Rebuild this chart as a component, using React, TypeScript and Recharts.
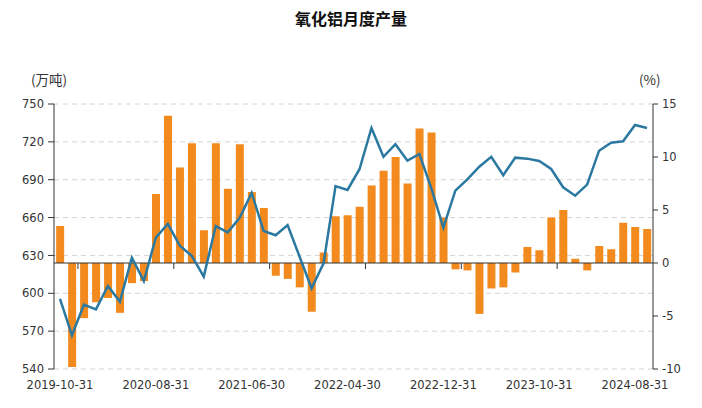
import {
  ComposedChart,
  Bar,
  Line,
  XAxis,
  YAxis,
  CartesianGrid,
  ReferenceLine,
} from "recharts";

// months (Jan/Feb are not reported separately)
const dates = [
  "2019-10-31", "2019-11-30", "2019-12-31",
  "2020-03-31", "2020-04-30", "2020-05-31", "2020-06-30", "2020-07-31",
  "2020-08-31", "2020-09-30", "2020-10-31", "2020-11-30", "2020-12-31",
  "2021-03-31", "2021-04-30", "2021-05-31", "2021-06-30", "2021-07-31",
  "2021-08-31", "2021-09-30", "2021-10-31", "2021-11-30", "2021-12-31",
  "2022-03-31", "2022-04-30", "2022-05-31", "2022-06-30", "2022-07-31",
  "2022-08-31", "2022-09-30", "2022-10-31", "2022-11-30", "2022-12-31",
  "2023-03-31", "2023-04-30", "2023-05-31", "2023-06-30", "2023-07-31",
  "2023-08-31", "2023-09-30", "2023-10-31", "2023-11-30", "2023-12-31",
  "2024-03-31", "2024-04-30", "2024-05-31", "2024-06-30", "2024-07-31",
  "2024-08-31", "2024-09-30",
];

// 月度产量（万吨）
const output = [
  595.5, 566.7, 591, 587.3, 605.8, 593.4, 628.2, 609.7, 644.1, 654.9,
  637.7, 629.6, 613.2, 653.3, 648.3, 659.9, 679.5, 649.4, 646, 654.1,
  629, 604, 623.8, 685, 681.9, 698.3, 731, 708.2, 718.1, 705.1,
  710.4, 683.2, 652, 681.3, 690.3, 700.3, 708.2, 693.5, 707.5, 706.7,
  704.8, 698.5, 684, 677.3, 686.1, 713, 719.3, 720.4, 733.4, 731,
];

// 同比（%）
const yoy = [
  3.5, -9.8, -5.2, -3.7, -3.3, -4.7, -1.9, -1.7, 6.5, 13.9,
  9.0, 11.3, 3.1, 11.3, 7.0, 11.2, 6.7, 5.2, -1.2, -1.5,
  -2.3, -4.6, 1.0, 4.4, 4.5, 5.3, 7.3, 8.7, 10.0, 7.5,
  12.7, 12.3, 4.3, -0.6, -0.7, -4.8, -2.4, -2.3, -0.9, 1.5,
  1.2, 4.3, 5.0, 0.4, -0.7, 1.6, 1.3, 3.8, 3.4, 3.2,
];

const leftTicks = [540, 570, 600, 630, 660, 690, 720, 750];
const rightTicks = [-10, -5, 0, 5, 10, 15];

const data = dates.map((date, i) => ({ date, output: output[i], yoy: yoy[i] }));

const axisColor = "#333";
const font = "DejaVu Sans";
const tickStyle = { fill: "#333", fontSize: 11.5, fontFamily: font };

// x axis line sits on the 0% level, with ticks between every 8th month
const AxisAtZero = (props: any) => {
  const { x1, y1, x2, y2 } = props;
  const n = dates.length;
  const marks = [];
  for (let k = 8; k < n; k += 8) {
    const x = x1 + ((x2 - x1) * k) / n;
    marks.push(<line key={k} x1={x} x2={x} y1={y1} y2={y1 + 6} stroke={axisColor} />);
  }
  return (
    <g>
      <line x1={x1} y1={y1} x2={x2} y2={y2} stroke={axisColor} strokeWidth={1} />
      {marks}
    </g>
  );
};

export default function App() {
  return (
    <div style={{ position: "absolute", left: 0, top: 0, width: 702, height: 408, background: "#fff" }}>
      <div
        style={{
          position: "absolute",
          left: 0,
          width: 702,
          top: 6,
          textAlign: "center",
          fontFamily: "Noto Sans CJK SC",
          fontWeight: 700,
          fontSize: 16,
          lineHeight: "24px",
          color: "#111",
        }}
      >
        氧化铝月度产量
      </div>
      <div
        style={{
          position: "absolute",
          left: 31,
          top: 69,
          fontFamily: "Noto Sans CJK SC",
          fontSize: 13.5,
          lineHeight: "20px",
          color: "#333",
        }}
      >
        (万吨)
      </div>
      <div
        style={{
          position: "absolute",
          left: 639,
          top: 69,
          fontFamily: "Noto Sans CJK SC",
          fontSize: 13.5,
          lineHeight: "20px",
          color: "#333",
        }}
      >
        (%)
      </div>
      <ComposedChart
        width={702}
        height={408}
        data={data}
        margin={{ top: 104, right: 0, bottom: 9, left: 0 }}
        barCategoryGap="18%"
      >
        <CartesianGrid
          yAxisId="left"
          vertical={false}
          strokeDasharray="5 4"
          stroke="#d4d4d4"
        />
        <XAxis
          dataKey="date"
          interval={7}
          height={30}
          axisLine={false}
          tickLine={false}
          tickMargin={6}
          tick={tickStyle}
        />
        <YAxis
          yAxisId="left"
          width={54}
          domain={[540, 750]}
          ticks={leftTicks}
          allowDataOverflow
          axisLine={{ stroke: axisColor }}
          tickLine={{ stroke: axisColor }}
          tickSize={6}
          tickMargin={4}
          tick={tickStyle}
        />
        <YAxis
          yAxisId="right"
          orientation="right"
          width={49}
          domain={[-10, 15]}
          ticks={rightTicks}
          allowDataOverflow
          axisLine={{ stroke: axisColor }}
          tickLine={{ stroke: axisColor }}
          tickSize={5}
          tickMargin={4}
          tick={tickStyle}
        />
        <Bar yAxisId="right" dataKey="yoy" fill="#F28A1E" isAnimationActive={false} />
        <ReferenceLine yAxisId="right" y={0} shape={AxisAtZero} />
        <Line
          yAxisId="left"
          type="linear"
          dataKey="output"
          stroke="#2B79A0"
          strokeWidth={2.5}
          dot={false}
          isAnimationActive={false}
        />
      </ComposedChart>
    </div>
  );
}
